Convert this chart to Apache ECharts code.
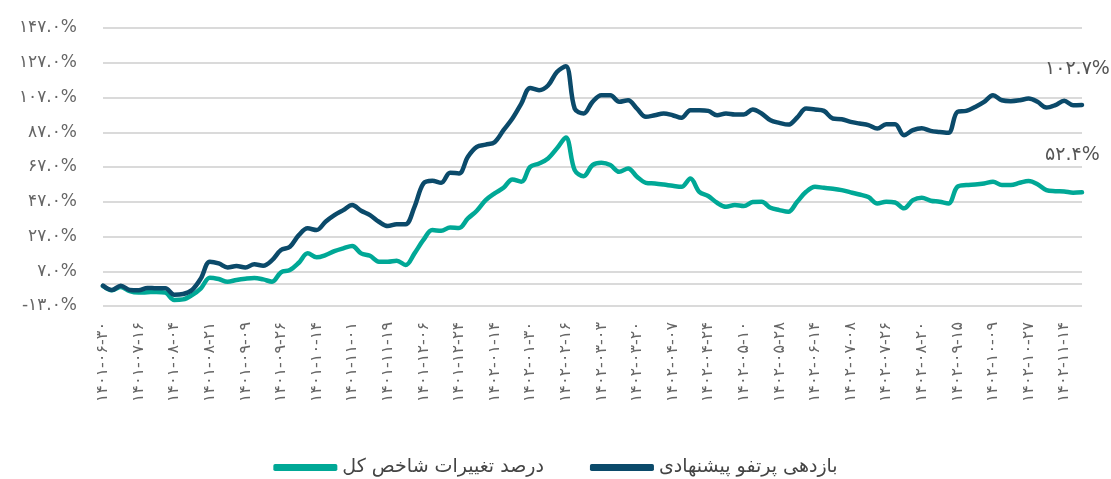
<!DOCTYPE html>
<html>
<head>
<meta charset="utf-8">
<script src="https://cdn.jsdelivr.net/npm/echarts@6/dist/echarts.min.js"></script>
<style>
  html, body { margin: 0; padding: 0; background: #fff; }
  #chart { width: 1111px; height: 479px; }
</style>
</head>
<body>
<div id="chart"></div>
<script>
// تاریخ‌های محور افقی (هر ۴ نقطه یک برچسب)
const tickLabels = [
  "۱۴۰۱-۰۶-۳۰", "۱۴۰۱-۰۷-۱۶", "۱۴۰۱-۰۸-۰۴", "۱۴۰۱-۰۸-۲۱", "۱۴۰۱-۰۹-۰۹",
  "۱۴۰۱-۰۹-۲۶", "۱۴۰۱-۱۰-۱۴", "۱۴۰۱-۱۱-۰۱", "۱۴۰۱-۱۱-۱۹", "۱۴۰۱-۱۲-۰۶",
  "۱۴۰۱-۱۲-۲۴", "۱۴۰۲-۰۱-۱۴", "۱۴۰۲-۰۱-۳۰", "۱۴۰۲-۰۲-۱۶", "۱۴۰۲-۰۳-۰۳",
  "۱۴۰۲-۰۳-۲۰", "۱۴۰۲-۰۴-۰۷", "۱۴۰۲-۰۴-۲۴", "۱۴۰۲-۰۵-۱۰", "۱۴۰۲-۰۵-۲۸",
  "۱۴۰۲-۰۶-۱۴", "۱۴۰۲-۰۷-۰۸", "۱۴۰۲-۰۷-۲۶", "۱۴۰۲-۰۸-۲۰", "۱۴۰۲-۰۹-۱۵",
  "۱۴۰۲-۱۰-۰۹", "۱۴۰۲-۱۰-۲۷", "۱۴۰۲-۱۱-۱۴"
];
const stepsPerTick = 4;
const pointCount = 111;

const seriesNames = ["درصد تغییرات شاخص کل", "بازدهی پرتفو پیشنهادی"];

// درصد تغییرات شاخص کل
const indexChange = [
  -1.5, -4.0, -2.0, -4.5, -5.3, -5.1, -4.9, -5.3, -9.5, -9.2,
  -6.7, -2.8, 3.3, 2.5, 1.0, 2.0, 2.7, 3.1, 2.3, 1.0,
  6.4, 7.7, 11.9, 17.3, 15.0, 16.3, 18.6, 20.2, 21.5, 17.3,
  15.9, 12.5, 12.5, 13.1, 10.6, 17.3, 25.0, 30.7, 30.3, 32.2,
  31.9, 37.4, 41.8, 47.9, 51.8, 55.0, 59.8, 58.5, 67.1, 69.0,
  71.9, 77.7, 84.0, 65.2, 61.7, 68.1, 69.4, 68.1, 64.2, 66.2,
  61.4, 57.9, 57.5, 56.9, 56.2, 55.6, 60.4, 52.7, 50.3, 46.4,
  44.1, 45.1, 44.5, 46.8, 47.0, 43.5, 42.2, 41.2, 47.0, 52.7,
  55.6, 55.0, 54.5, 53.7, 52.4, 51.2, 49.7, 46.0, 47.0, 46.6,
  43.2, 47.9, 49.3, 47.6, 47.0, 46.0, 55.6, 56.6, 56.9, 57.5,
  58.5, 56.6, 56.6, 57.9, 58.9, 57.1, 53.7, 53.1, 52.9, 52.2, 52.4
];

// بازدهی پرتفو پیشنهادی
const portfolioReturn = [
  -1.3, -3.8, -1.3, -3.8, -4.0, -2.6, -2.8, -2.8, -6.5, -6.1,
  -3.8, 2.9, 12.5, 11.5, 9.2, 10.0, 9.2, 11.0, 10.2, 13.4,
  19.2, 21.1, 27.8, 31.7, 30.7, 35.5, 39.3, 42.2, 45.1, 41.8,
  39.3, 35.5, 33.0, 34.1, 34.1, 44.1, 57.5, 59.1, 57.9, 63.7,
  63.3, 72.9, 78.6, 79.9, 81.3, 88.2, 94.9, 103.5, 112.5, 111.2,
  113.9, 121.7, 125.0, 100.6, 97.8, 104.5, 108.3, 108.3, 104.5, 105.4,
  100.6, 95.9, 96.8, 97.8, 96.8, 95.3, 99.7, 99.7, 99.3, 96.8,
  97.8, 97.2, 97.2, 100.1, 97.8, 93.9, 92.4, 91.4, 95.5, 100.6,
  100.1, 99.3, 94.9, 94.5, 93.0, 92.0, 91.1, 89.1, 91.6, 91.6,
  85.3, 88.2, 89.3, 87.8, 87.2, 86.7, 98.7, 99.3, 101.6, 104.5,
  108.3, 105.4, 104.9, 105.4, 106.4, 104.5, 101.2, 102.6, 105.1, 102.6, 102.7
];

const faDigits = "۰۱۲۳۴۵۶۷۸۹";
function toFa(s) {
  return String(s).replace(/[0-9]/g, function (d) { return faDigits[+d]; });
}

// دسته‌ها: تاریخ برچسب‌دار و نقاط میانی
const categories = [];
for (let i = 0; i < pointCount; i++) {
  const k = Math.floor(i / stepsPerTick);
  const j = i % stepsPerTick;
  categories.push(j === 0 ? tickLabels[k] : tickLabels[k] + " " + j);
}

const fontFa = "'DejaVu Sans', sans-serif";

let myChart = echarts.init(document.getElementById("chart"));
myChart.setOption({
  animation: false,
  textStyle: { fontFamily: fontFa },
  grid: {
    left: 103,
    right: 29,
    top: 28,
    bottom: 173,
  },
  legend: {
    data: seriesNames,
    top: 453,
    left: "center",
    icon: "roundRect",
    itemWidth: 64,
    itemHeight: 7,
    itemGap: 46,
    textStyle: {
      fontFamily: fontFa,
      fontSize: 19,
      color: "#444",
    },
  },
  xAxis: {
    type: "category",
    data: categories,
    boundaryGap: false,
    axisLine: { show: false },
    axisTick: { show: false },
    axisLabel: {
      interval: stepsPerTick - 1,
      rotate: 90,
      margin: 16,
      fontSize: 16,
      color: "#666",
      fontFamily: fontFa,
    },
  },
  yAxis: {
    type: "value",
    min: -13,
    max: 147,
    interval: 20,
    axisLine: { show: false },
    axisTick: { show: false },
    axisLabel: {
      margin: 26,
      fontSize: 17,
      color: "#666",
      fontFamily: fontFa,
      formatter: function (v) {
        return toFa(v.toFixed(1)) + "%";
      },
    },
    splitLine: {
      show: true,
      lineStyle: { color: "#dadada", width: 2 },
    },
  },
  series: [
    {
      name: seriesNames[0],
      type: "line",
      data: indexChange,
      smooth: 0.35,
      showSymbol: false,
      z: 2,
      lineStyle: { color: "#00a896", width: 4.5, cap: "round", join: "round" },
      itemStyle: { color: "#00a896" },
      endLabel: {
        show: true,
        offset: [-45, -37],
        fontSize: 19,
        color: "#555",
        fontFamily: fontFa,
        formatter: function (p) {
          return toFa(p.value.toFixed(1)) + "%";
        },
      },
      markLine: {
        silent: true,
        z: 1,
        symbol: "none",
        label: { show: false },
        lineStyle: { color: "#dadada", width: 2, type: "solid" },
        data: [{ yAxis: 0 }],
      },
    },
    {
      name: seriesNames[1],
      type: "line",
      data: portfolioReturn,
      smooth: 0.35,
      showSymbol: false,
      z: 3,
      lineStyle: { color: "#0b4a6a", width: 4.5, cap: "round", join: "round" },
      itemStyle: { color: "#0b4a6a" },
      endLabel: {
        show: true,
        offset: [-45, -36],
        fontSize: 19,
        color: "#555",
        fontFamily: fontFa,
        formatter: function (p) {
          return toFa(p.value.toFixed(1)) + "%";
        },
      },
    },
  ],
});
window.addEventListener("resize", function () {
  myChart.resize();
});
</script>
</body>
</html>
